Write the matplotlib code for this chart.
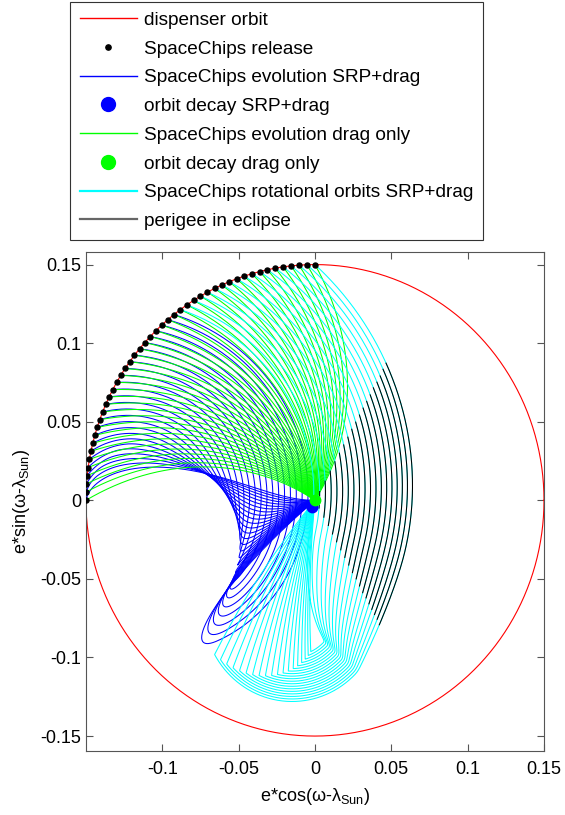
import numpy as np
import matplotlib
matplotlib.use("Agg")
import matplotlib.pyplot as plt
from matplotlib.lines import Line2D

plt.rcParams['font.family'] = ['Liberation Sans', 'DejaVu Sans']
plt.rcParams['mathtext.fontset'] = 'custom'
plt.rcParams['mathtext.rm'] = 'Liberation Sans'
plt.rcParams['mathtext.it'] = 'Liberation Sans:italic'

# ---- data -------------------------------------------------------------
e_dispenser = 0.15
release_deg = np.arange(90, 181, 2.0)        # release phase angles (deg)
rotational_limit_deg = 126                   # last release on a rotational orbit
drag_turn_deg = 33                           # phase drift of drag-only evolution
eclipse_half_angle_deg = 62                  # perigee-in-eclipse sector half width
libration_centre = -0.12                     # SRP equilibrium on the e*cos axis
centre_drift = 0.004                         # equilibrium drift per radian of phase
amplitude_decay = 0.07                       # amplitude loss per radian of phase
lower_lobe_centre = (-0.015, -0.07)          # late-phase centre of rotational orbits
lower_lobe_radius = 0.058
rot_end_phase_deg = (-151, -65)              # end phase, outermost / innermost orbit
decay_phase_lib_deg = -62                    # decay phase of outermost librating orbit
decay_srp = (-0.002, -0.004)
decay_drag = (0.0, 0.0)
xticks = [-0.1, -0.05, 0, 0.05, 0.1, 0.15]
yticks = [-0.15, -0.1, -0.05, 0, 0.05, 0.1, 0.15]

labels = ['dispenser orbit', 'SpaceChips release', 'SpaceChips evolution SRP+drag',
          'orbit decay SRP+drag', 'SpaceChips evolution drag only', 'orbit decay drag only',
          'SpaceChips rotational orbits SRP+drag', 'perigee in eclipse']

GREEN = (0, 1, 0)

# ---- trajectory models ----------------------------------------------
def drag_only(theta0):
    s = np.linspace(0, 1, 300)
    r = e_dispenser * (1 - s)
    ph = np.deg2rad(theta0 - drag_turn_deg * s)
    return r * np.cos(ph), r * np.sin(ph)


def _start(theta0):
    p0 = e_dispenser * np.exp(1j * np.deg2rad(theta0))
    rel = p0 - libration_centre
    return abs(rel), np.angle(rel)


def librating(theta0):
    """Clockwise libration about the drifting SRP equilibrium, then decay."""
    r0, psi0 = _start(theta0)
    u = (release_deg[-1] - theta0) / (release_deg[-1] - rotational_limit_deg - 2)
    tc = u * (psi0 - np.deg2rad(decay_phase_lib_deg))
    S = (1 - u) * np.pi + u * 0.55
    q = 1 + 0.3 * u
    t = np.linspace(0, tc + S, 800)
    s = np.clip(t - tc, 0, S)
    rho = np.cos(0.5 * np.pi * (s / S) ** q)
    centre = libration_centre + centre_drift * t
    amp = r0 * (1 - amplitude_decay * t)
    z = rho * (centre + amp * np.exp(1j * (psi0 - t)))
    return z.real, z.imag


def rotating(theta0):
    """Rotational orbit: wide arc about the SRP equilibrium, tightening onto
    the lower lobe, then decay of the eccentricity."""
    r0, psi0 = _start(theta0)
    v = (theta0 - release_deg[0]) / (rotational_limit_deg - release_deg[0])
    psi_end = np.deg2rad(rot_end_phase_deg[0] + (rot_end_phase_deg[1] - rot_end_phase_deg[0]) * v)
    tail = np.deg2rad(15)
    psi = np.linspace(psi0, psi_end - tail, 900)
    t = psi0 - psi
    wide_c = libration_centre + centre_drift * t
    wide_r = r0 * (1 - amplitude_decay * t)
    lobe_c = complex(*lower_lobe_centre)
    lobe_r = lower_lobe_radius * (1 - 0.5 * v)
    w = np.clip((np.deg2rad(-10) - psi) / np.deg2rad(35), 0, 1)
    w = w * w * (3 - 2 * w)
    centre = (1 - w) * wide_c + w * lobe_c
    amp = (1 - w) * wide_r + w * lobe_r
    rho = np.clip(1 - (psi_end - psi) / tail, 0, 1)
    rho = np.where(psi > psi_end, 1.0, rho)
    z = rho * (centre + amp * np.exp(1j * psi))
    return z.real, z.imag

# ---- figure ------------------------------------------------------------
fig = plt.figure(figsize=(5.65, 8.15), dpi=100)
ax = fig.add_axes([86 / 565, 1 - 751 / 815, 458 / 565, 499 / 815])

th = np.linspace(0, 2 * np.pi, 721)
ax.plot(e_dispenser * np.cos(th), e_dispenser * np.sin(th), color='red', lw=0.8, zorder=2)

rot = release_deg[release_deg <= rotational_limit_deg]
lib = release_deg[release_deg > rotational_limit_deg]

for t0 in lib:
    x, y = librating(t0)
    ax.plot(x, y, color='blue', lw=0.75, zorder=3)

for t0 in release_deg:
    x, y = drag_only(t0)
    ax.plot(x, y, color=GREEN, lw=0.75, zorder=4)

for t0 in rot:
    x, y = rotating(t0)
    ax.plot(x, y, color='cyan', lw=0.75, zorder=5)
    ang = np.degrees(np.arctan2(y, x))
    ecl = (np.abs(ang) < eclipse_half_angle_deg) & (np.hypot(x, y) > 0.004)
    ax.plot(np.where(ecl, x, np.nan), np.where(ecl, y, np.nan), color='black', lw=0.75, zorder=6)

ax.plot(*decay_srp, 'o', color='blue', ms=7.5, zorder=7)
ax.plot(*decay_drag, 'o', color=GREEN, ms=7.5, zorder=8)

rx = e_dispenser * np.cos(np.deg2rad(release_deg))
ry = e_dispenser * np.sin(np.deg2rad(release_deg))
ax.plot(rx, ry, 'o', color='black', ms=3.6, zorder=9)

ax.set_xlim(-0.14995, 0.15)
ax.set_ylim(-0.1595, 0.158)
ax.set_xticks(xticks)
ax.set_yticks(yticks)
ax.set_xticklabels([f'{v:g}' for v in xticks])
ax.set_yticklabels([f'{v:g}' for v in yticks])
ax.tick_params(direction='in', top=True, right=True, labelsize=13, length=5, color='#555555')
ax.tick_params(axis='x', pad=7)
for sp in ax.spines.values():
    sp.set_color('#555555')
ax.set_xlabel('e*cos(ω-λ$_{\\mathrm{Sun}}$)', fontsize=13, labelpad=6)
ax.set_ylabel('e*sin(ω-λ$_{\\mathrm{Sun}}$)', fontsize=13, labelpad=6)

handles = [
    Line2D([], [], color='red', lw=1),
    Line2D([], [], color='black', marker='o', ls='none', ms=3.8),
    Line2D([], [], color='blue', lw=1),
    Line2D([], [], color='blue', marker='o', ls='none', ms=10),
    Line2D([], [], color=GREEN, lw=1),
    Line2D([], [], color=GREEN, marker='o', ls='none', ms=10),
    Line2D([], [], color='cyan', lw=1.6),
    Line2D([], [], color='#666666', lw=1.6),
]
leg = fig.legend(handles, labels, loc='upper left', bbox_to_anchor=(70 / 565, 1 - 2 / 815),
                 fontsize=13.7, handlelength=3.0, handletextpad=0.37, labelspacing=0.6,
                 borderpad=0.5, borderaxespad=0, fancybox=False, framealpha=1,
                 edgecolor='#333333')
leg.get_frame().set_linewidth(0.8)

fig.savefig("out.png", dpi=100)
